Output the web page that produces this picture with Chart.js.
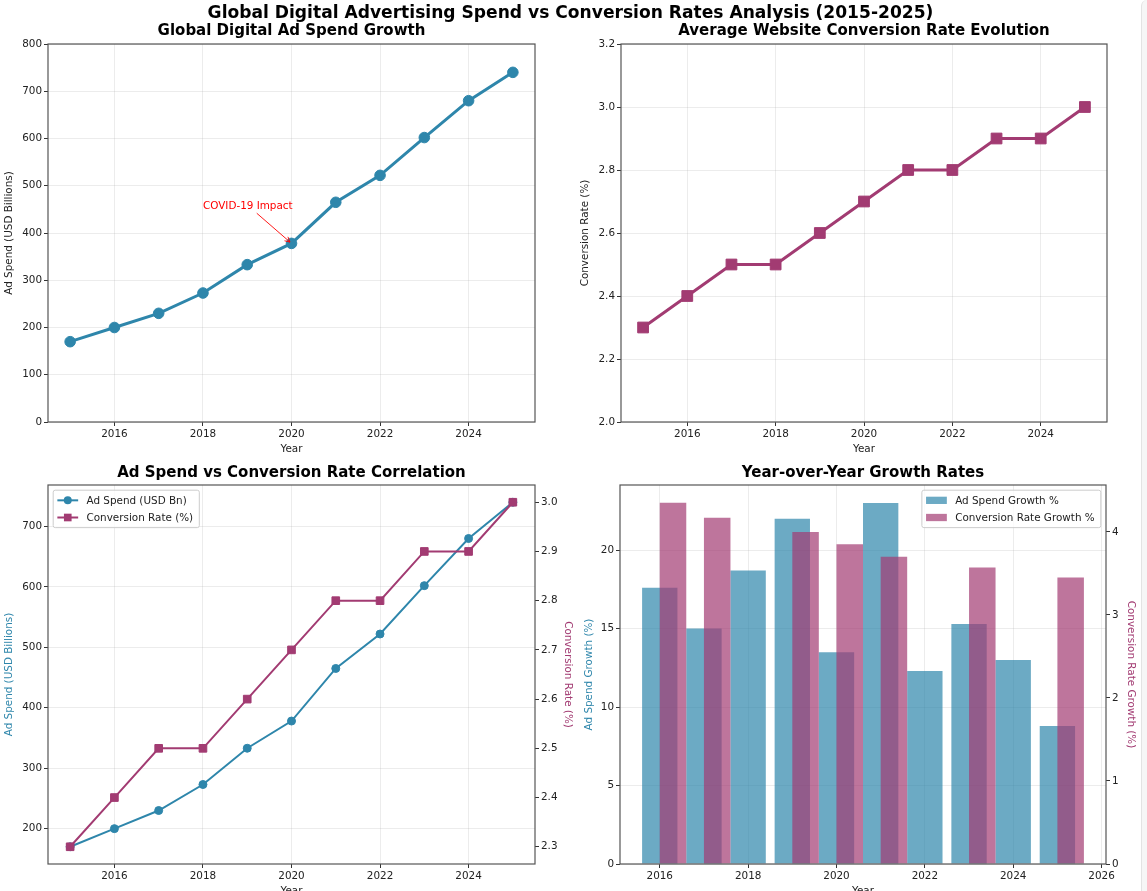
<!DOCTYPE html>
<html>
<head>
<meta charset="utf-8">
<script src="https://cdn.jsdelivr.net/npm/chart.js@4.4.1/dist/chart.umd.min.js"></script>
<style>
html,body{margin:0;padding:0;background:#fff;overflow:hidden;}
body{width:1147px;height:891px;position:relative;}
#main{position:absolute;left:0;top:2px;width:1141px;text-align:center;font:bold 17.1px "DejaVu Sans";color:#000;z-index:5;line-height:20px;}
.cv{position:absolute;}
#edge{position:absolute;left:1141px;top:0;width:6px;height:891px;background:#f6f6f6;border-left:1px solid #e3e3e3;border-top-left-radius:6px;z-index:6;}
</style>
</head>
<body>
<div id="main">Global Digital Advertising Spend vs Conversion Rates Analysis (2015-2025)</div>
<canvas id="c1" class="cv" width="580" height="460" style="left:0;top:0"></canvas>
<canvas id="c2" class="cv" width="574" height="460" style="left:573px;top:0"></canvas>
<canvas id="c3" class="cv" width="580" height="440" style="left:0;top:460px"></canvas>
<canvas id="c4" class="cv" width="574" height="440" style="left:573px;top:460px"></canvas>
<div id="edge"></div>
<script>
// ---------------- DATA ----------------
const years = [2015, 2016, 2017, 2018, 2019, 2020, 2021, 2022, 2023, 2024, 2025];
const adSpend = [170, 200, 230, 273, 333, 378, 465, 522, 602, 680, 740];
const convRate = [2.3, 2.4, 2.5, 2.5, 2.6, 2.7, 2.8, 2.8, 2.9, 2.9, 3.0];
const growthYears = [2016, 2017, 2018, 2019, 2020, 2021, 2022, 2023, 2024, 2025];
const adSpendGrowth = [17.6, 15.0, 18.7, 22.0, 13.5, 23.0, 12.3, 15.3, 13.0, 8.8];
const convRateGrowth = [4.35, 4.17, 0, 4.0, 3.85, 3.70, 0, 3.57, 0, 3.45];

const yearTicks = [2016, 2018, 2020, 2022, 2024];
const growthYearTicks = [2016, 2018, 2020, 2022, 2024, 2026];
const adSpendTicks = [0, 100, 200, 300, 400, 500, 600, 700, 800];
const convRateTicks = [2.0, 2.2, 2.4, 2.6, 2.8, 3.0, 3.2];
const corrAdTicks = [200, 300, 400, 500, 600, 700];
const corrConvTicks = [2.3, 2.4, 2.5, 2.6, 2.7, 2.8, 2.9, 3.0];
const adGrowthTicks = [0, 5, 10, 15, 20];
const convGrowthTicks = [0, 1, 2, 3, 4];

const titles = {
  main: 'Global Digital Advertising Spend vs Conversion Rates Analysis (2015-2025)',
  c1: 'Global Digital Ad Spend Growth',
  c2: 'Average Website Conversion Rate Evolution',
  c3: 'Ad Spend vs Conversion Rate Correlation',
  c4: 'Year-over-Year Growth Rates'
};
const annotationText = 'COVID-19 Impact';
const annotationPoint = [2020, 378];
const annotationTextAt = [2018, 450];

// ---------------- STYLE ----------------
const BLUE = '#2E86AB', PURPLE = '#A23B72';
const BLUE_A = 'rgba(46,134,171,0.7)', PURPLE_A = 'rgba(162,59,114,0.7)';
const FONT = '"DejaVu Sans"';
const FS = 10.4;
const TXT = '#222222';
const GRID = 'rgba(176,176,176,0.3)';
const TICKC = '#333333';
const CONV_BAR_SHIFT = 0.3;

Chart.defaults.font.family = FONT;
Chart.defaults.font.size = FS;
Chart.defaults.color = TXT;
Chart.defaults.animation = false;

const frame = {
  id: 'frame',
  afterDatasetsDraw(chart) {
    const {ctx, chartArea: a} = chart;
    ctx.save();
    ctx.strokeStyle = '#555555';
    ctx.lineWidth = 1.2;
    ctx.strokeRect(a.left, a.top, a.right - a.left, a.bottom - a.top);
    ctx.restore();
  }
};

const annot = {
  id: 'annot',
  afterDatasetsDraw(chart, args, o) {
    if (!o || !o.text) return;
    const {ctx, scales} = chart;
    const tx = scales.x.getPixelForValue(o.textAt[0]);
    const ty = scales.y.getPixelForValue(o.textAt[1]);
    const px = scales.x.getPixelForValue(o.point[0]);
    const py = scales.y.getPixelForValue(o.point[1]);
    ctx.save();
    ctx.font = FS + 'px ' + FONT;
    ctx.fillStyle = 'red';
    ctx.textAlign = 'left';
    ctx.textBaseline = 'alphabetic';
    ctx.fillText(o.text, tx, ty);
    const w = ctx.measureText(o.text).width;
    const cx = tx + w / 2, cy = ty - FS * 0.38;
    const dx = px - cx, dy = py - cy, len = Math.hypot(dx, dy);
    const ux = dx / len, uy = dy / len;
    const t0 = (FS * 0.75) / uy;
    const sx = cx + ux * t0, sy = cy + uy * t0;
    const ex = px - ux * 2, ey = py - uy * 2;
    ctx.strokeStyle = 'red';
    ctx.lineWidth = 0.9;
    ctx.beginPath();
    ctx.moveTo(sx, sy); ctx.lineTo(ex, ey);
    const hl = 5, hw = 2.6;
    const nx = -uy, ny = ux;
    ctx.moveTo(ex - ux * hl + nx * hw, ey - uy * hl + ny * hw);
    ctx.lineTo(ex, ey);
    ctx.lineTo(ex - ux * hl - nx * hw, ey - uy * hl - ny * hw);
    ctx.stroke();
    ctx.restore();
  }
};

const innerLegend = {
  id: 'innerLegend',
  afterDraw(chart, args, o) {
    if (!o || !o.type) return;
    const {ctx, chartArea: a} = chart;
    const dss = chart.data.datasets;
    ctx.save();
    ctx.font = FS + 'px ' + FONT;
    const maxW = Math.max(...dss.map(d => ctx.measureText(d.label).width));
    const pad = 0.4 * FS, hl = 2 * FS, htp = 0.8 * FS, ls = 0.5 * FS, bap = 0.5 * FS;
    const rowH = FS * 1.15;
    const w = pad * 2 + hl + htp + maxW + 2;
    const h = pad * 2 + rowH * dss.length + ls * (dss.length - 1);
    const x = o.corner === 'right' ? a.right - bap - w : a.left + bap;
    const y = a.top + bap;
    ctx.fillStyle = 'rgba(255,255,255,0.8)';
    ctx.strokeStyle = '#cccccc';
    ctx.lineWidth = 1;
    ctx.beginPath();
    if (ctx.roundRect) ctx.roundRect(x, y, w, h, 2); else ctx.rect(x, y, w, h);
    ctx.fill(); ctx.stroke();
    dss.forEach((d, i) => {
      const cy = y + pad + rowH / 2 + i * (rowH + ls);
      const hx = x + pad;
      if (o.type === 'line') {
        ctx.strokeStyle = d.borderColor;
        ctx.lineWidth = d.borderWidth;
        ctx.beginPath(); ctx.moveTo(hx, cy); ctx.lineTo(hx + hl, cy); ctx.stroke();
        ctx.fillStyle = d.pointBackgroundColor;
        const mx = hx + hl / 2;
        if (d.pointStyle === 'rect') {
          const s = Math.SQRT1_2 * d.pointRadius;
          ctx.fillRect(mx - s, cy - s, 2 * s, 2 * s);
        } else {
          ctx.beginPath(); ctx.arc(mx, cy, d.pointRadius, 0, Math.PI * 2); ctx.fill();
        }
      } else {
        ctx.fillStyle = d.backgroundColor;
        ctx.fillRect(hx, cy - 0.35 * FS, hl, 0.7 * FS);
      }
      ctx.fillStyle = TXT;
      ctx.textAlign = 'left';
      ctx.textBaseline = 'middle';
      ctx.fillText(d.label, hx + hl + htp, cy + 0.5);
    });
    ctx.restore();
  }
};

function setTicks(list) { return s => { s.ticks = list.map(v => ({value: v})); }; }

function xAxis(min, max, ticks, height, titlePad, extra) {
  return Object.assign({
    type: 'linear', position: 'bottom', min, max, offset: false,
    afterBuildTicks: setTicks(ticks),
    afterFit: s => { s.height = height; },
    grid: {color: GRID, lineWidth: 0.8, tickColor: TICKC, tickLength: 4, tickWidth: 1, offset: false},
    border: {display: false},
    ticks: {color: TXT, font: {size: FS}, padding: 2, maxRotation: 0, autoSkip: false, callback: v => String(v)},
    title: {display: true, text: 'Year', color: TXT, font: {size: FS}, padding: {top: 0, bottom: titlePad}}
  }, extra || {});
}

function yAxis(pos, min, max, ticks, width, label, labelColor, titlePad, fmt, grid) {
  return {
    type: 'linear', position: pos, min, max,
    afterBuildTicks: setTicks(ticks),
    afterFit: s => { s.width = width; },
    grid: {display: true, drawOnChartArea: grid, color: GRID, lineWidth: 0.8, tickColor: TICKC, tickLength: 4, tickWidth: 1},
    border: {display: false},
    ticks: {color: TXT, font: {size: FS}, padding: 2, autoSkip: false, callback: fmt},
    title: {display: true, text: label, color: labelColor, font: {size: FS}, padding: {top: titlePad, bottom: 0}}
  };
}

function titleOpt(text, top, bottom) {
  return {display: true, text, fullSize: false, color: '#000', font: {size: 15, weight: 'bold'}, padding: {top, bottom}};
}

const pts = (xs, ys, shift) => xs.map((x, i) => ({x: x + (shift || 0), y: ys[i]}));

// ---------- Chart 1 ----------
new Chart(document.getElementById('c1'), {
  type: 'line',
  data: {datasets: [{
    label: 'Ad Spend', data: pts(years, adSpend),
    borderColor: BLUE, backgroundColor: BLUE, borderWidth: 3,
    pointRadius: 5.3, pointBackgroundColor: BLUE, pointBorderColor: BLUE, pointBorderWidth: 1, pointStyle: 'circle', tension: 0
  }]},
  options: {
    responsive: false, devicePixelRatio: 1,
    layout: {padding: {left: 0, right: 45, top: 0, bottom: 0}},
    plugins: {legend: {display: false}, tooltip: {enabled: false},
      title: titleOpt(titles.c1, 22.3, 3.7),
      annot: {text: annotationText, point: annotationPoint, textAt: annotationTextAt}},
    scales: {
      x: xAxis(2014.5, 2025.5, yearTicks, 38, 4.0),
      y: yAxis('left', 0, 800, adSpendTicks, 48, 'Ad Spend (USD Billions)', TXT, 3.2, v => String(v), true)
    }
  },
  plugins: [frame, annot]
});

// ---------- Chart 2 ----------
new Chart(document.getElementById('c2'), {
  type: 'line',
  data: {datasets: [{
    label: 'Conversion Rate', data: pts(years, convRate),
    borderColor: PURPLE, backgroundColor: PURPLE, borderWidth: 3,
    pointRadius: 7.6, pointBackgroundColor: PURPLE, pointBorderColor: PURPLE, pointBorderWidth: 1, pointStyle: 'rect', tension: 0
  }]},
  options: {
    responsive: false, devicePixelRatio: 1,
    layout: {padding: {left: 0, right: 40, top: 0, bottom: 0}},
    plugins: {legend: {display: false}, tooltip: {enabled: false},
      title: titleOpt(titles.c2, 22.3, 3.7)},
    scales: {
      x: xAxis(2014.5, 2025.5, yearTicks, 38, 4.0),
      y: yAxis('left', 2.0, 3.2, convRateTicks, 48, 'Conversion Rate (%)', TXT, 5.8, v => v.toFixed(1), true)
    }
  },
  plugins: [frame]
});

// ---------- Chart 3 ----------
new Chart(document.getElementById('c3'), {
  type: 'line',
  data: {datasets: [
    {label: 'Ad Spend (USD Bn)', data: pts(years, adSpend), yAxisID: 'y', order: 1,
      borderColor: BLUE, backgroundColor: BLUE, borderWidth: 2,
      pointRadius: 4, pointBackgroundColor: BLUE, pointBorderColor: BLUE, pointBorderWidth: 1, pointStyle: 'circle', tension: 0},
    {label: 'Conversion Rate (%)', data: pts(years, convRate), yAxisID: 'y2', order: 0,
      borderColor: PURPLE, backgroundColor: PURPLE, borderWidth: 2,
      pointRadius: 5.4, pointBackgroundColor: PURPLE, pointBorderColor: PURPLE, pointBorderWidth: 1, pointStyle: 'rect', tension: 0}
  ]},
  options: {
    responsive: false, devicePixelRatio: 1,
    layout: {padding: {left: 0, right: 0, top: 0, bottom: 0}},
    plugins: {legend: {display: false}, tooltip: {enabled: false},
      title: titleOpt(titles.c3, 4.3, 2.7),
      innerLegend: {type: 'line', corner: 'left'}},
    scales: {
      x: xAxis(2014.5, 2025.5, yearTicks, 36, 2.5),
      y: yAxis('left', 141.5, 768.5, corrAdTicks, 48, 'Ad Spend (USD Billions)', BLUE, 3.0, v => String(v), true),
      y2: yAxis('right', 2.265, 3.035, corrConvTicks, 45, 'Conversion Rate (%)', PURPLE, 5.7, v => v.toFixed(1), false)
    }
  },
  plugins: [frame, innerLegend]
});

// ---------- Chart 4 ----------
new Chart(document.getElementById('c4'), {
  type: 'bar',
  data: {datasets: [
    {label: 'Ad Spend Growth %', data: pts(growthYears, adSpendGrowth), xAxisID: 'x', yAxisID: 'y', order: 1,
      backgroundColor: BLUE_A, borderWidth: 0, grouped: false, categoryPercentage: 1, barPercentage: 0.8},
    {label: 'Conversion Rate Growth %', data: pts(growthYears, convRateGrowth, CONV_BAR_SHIFT), xAxisID: 'x2', yAxisID: 'y2', order: 0,
      backgroundColor: PURPLE_A, borderWidth: 0, grouped: false, categoryPercentage: 1, barPercentage: 0.6}
  ]},
  options: {
    responsive: false, devicePixelRatio: 1,
    layout: {padding: {left: 0, right: 0, top: 0, bottom: 0}},
    plugins: {legend: {display: false}, tooltip: {enabled: false},
      title: titleOpt(titles.c4, 4.3, 2.7),
      innerLegend: {type: 'bar', corner: 'right'}},
    scales: {
      x: xAxis(2015.1, 2026.1, growthYearTicks, 36, 2.5),
      x2: {type: 'linear', position: 'bottom', min: 2015.1, max: 2026.1, display: false, offset: false,
        afterBuildTicks: setTicks(growthYearTicks), grid: {display: false, offset: false}},
      y: yAxis('left', 0, 24.15, adGrowthTicks, 47, 'Ad Spend Growth (%)', BLUE, 10.4, v => String(v), true),
      y2: yAxis('right', 0, 4.565, convGrowthTicks, 41, 'Conversion Rate Growth (%)', PURPLE, 10, v => String(v), false)
    }
  },
  plugins: [frame, innerLegend]
});
</script>
</body>
</html>
